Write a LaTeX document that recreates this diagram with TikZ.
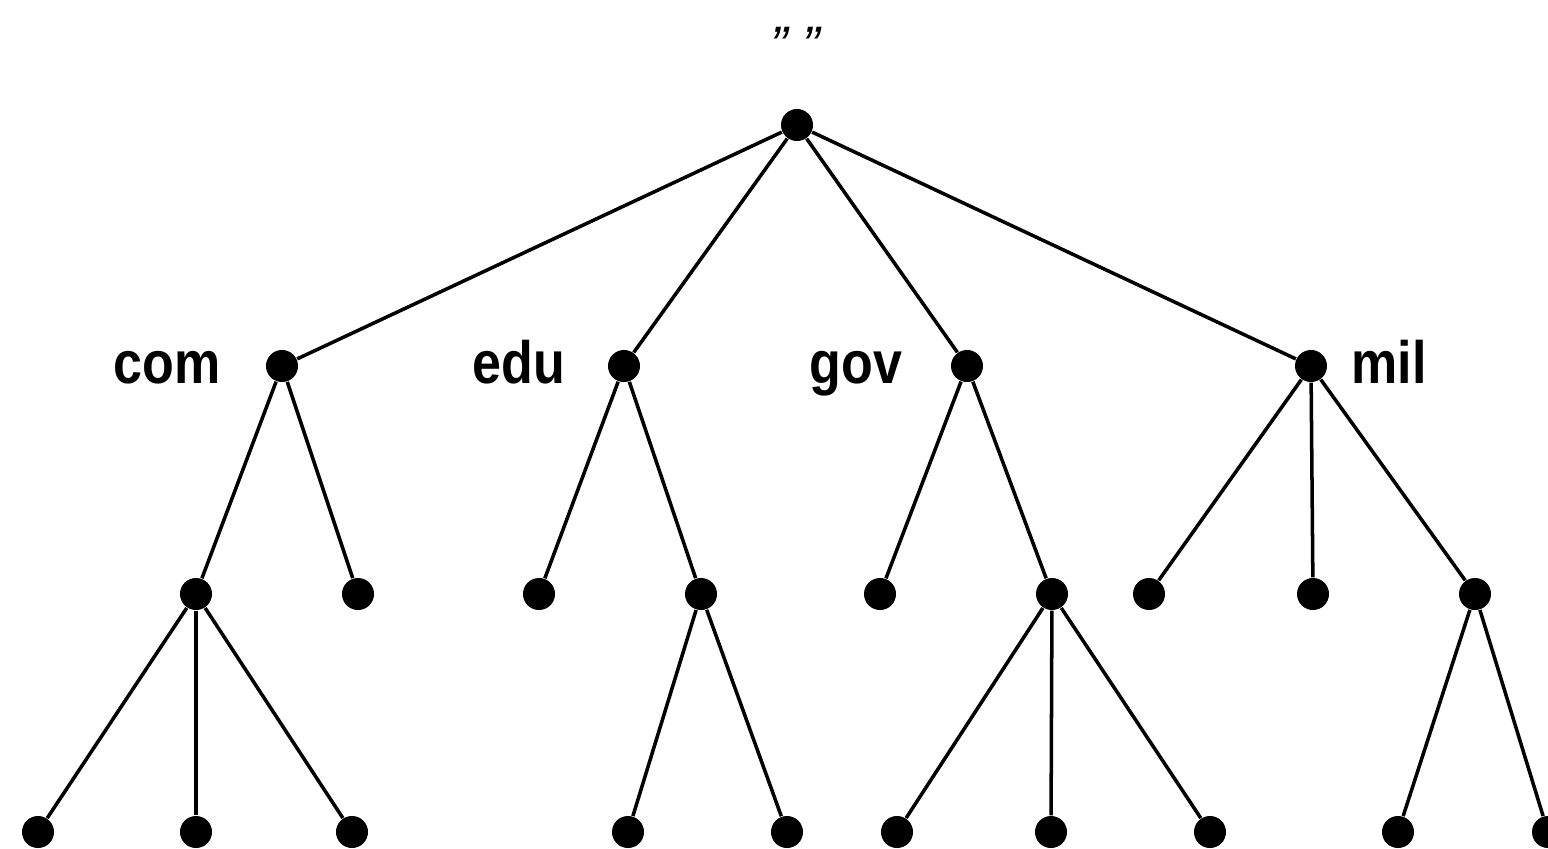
\documentclass[tikz,border=0pt]{standalone}
\usepackage{fontspec}
\setmainfont{Liberation Sans}
\usepackage{tikz}
\usetikzlibrary{positioning}
\definecolor{ink}{RGB}{0,0,0}
\tikzset{
  dot/.style={circle,fill=ink,minimum size=3.2mm,inner sep=0pt},
  edge/.style={draw=ink,line width=1pt},
  lbl/.style={font=\fontsize{17}{17}\selectfont\bfseries,text=ink,inner sep=0pt},
}
\newcommand{\narrow}[1]{\scalebox{0.87}[1]{#1}}

\begin{document}
\begin{tikzpicture}[x=0.01cm,y=-0.01cm]
\useasboundingbox (0,0) rectangle (1548,848);
% root of the name space
\node[dot] (root) at (797,125) {};
\node[lbl,font=\fontsize{15}{15}\selectfont\itshape,anchor=north] (rootlbl) at (795,27) {" "};
% top-level domains
\node[dot] (com) at (282,366) {};
\node[dot] (edu) at (624,366) {};
\node[dot] (gov) at (967,366) {};
\node[dot] (mil) at (1311,366) {};
\node[lbl,anchor=base east] (comlbl) at (221,383) {\narrow{com}};
\node[lbl,anchor=base east] (edulbl) at (566,383) {\narrow{edu}};
\node[lbl,anchor=base east] (govlbl) at (903,383) {\narrow{gov}};
\node[lbl,anchor=base west] (millbl) at (1351,383) {\narrow{mil}};
\draw[edge] (root) -- (com);
\draw[edge] (root) -- (edu);
\draw[edge] (root) -- (gov);
\draw[edge] (root) -- (mil);
% second level
\node[dot] (c1) at (196,594) {};
\node[dot] (c2) at (358,594) {};
\node[dot] (e1) at (539,594) {};
\node[dot] (e2) at (701,594) {};
\node[dot] (g1) at (880,594) {};
\node[dot] (g2) at (1052,594) {};
\node[dot] (m1) at (1149,594) {};
\node[dot] (m2) at (1313,594) {};
\node[dot] (m3) at (1475,594) {};
\draw[edge] (com) -- (c1);
\draw[edge] (com) -- (c2);
\draw[edge] (edu) -- (e1);
\draw[edge] (edu) -- (e2);
\draw[edge] (gov) -- (g1);
\draw[edge] (gov) -- (g2);
\draw[edge] (mil) -- (m1);
\draw[edge] (mil) -- (m2);
\draw[edge] (mil) -- (m3);
% third level
\node[dot] (c11) at (38,832) {};
\node[dot] (c12) at (196,832) {};
\node[dot] (c13) at (352,832) {};
\node[dot] (e21) at (628,832) {};
\node[dot] (e22) at (787,832) {};
\node[dot] (g21) at (897,832) {};
\node[dot] (g22) at (1051,832) {};
\node[dot] (g23) at (1210,832) {};
\node[dot] (m31) at (1398,832) {};
\node[dot] (m32) at (1548,832) {};
\draw[edge] (c1) -- (c11);
\draw[edge] (c1) -- (c12);
\draw[edge] (c1) -- (c13);
\draw[edge] (e2) -- (e21);
\draw[edge] (e2) -- (e22);
\draw[edge] (g2) -- (g21);
\draw[edge] (g2) -- (g22);
\draw[edge] (g2) -- (g23);
\draw[edge] (m3) -- (m31);
\draw[edge] (m3) -- (m32);
\end{tikzpicture}
\end{document}
